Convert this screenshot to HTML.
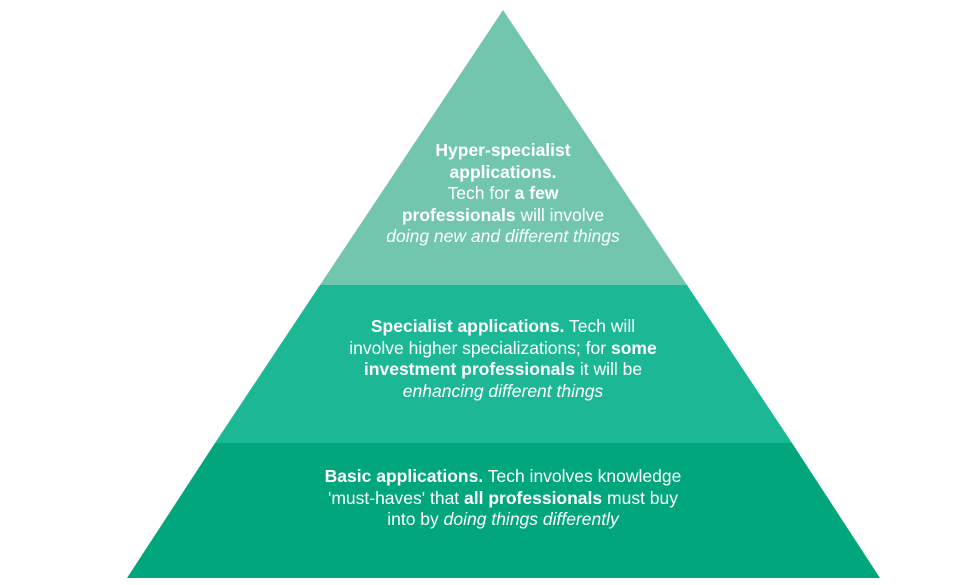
<!DOCTYPE html>
<html><head><style>
body{margin:0;width:974px;height:585px;background:#fff;position:relative;overflow:hidden;font-family:"Liberation Sans",sans-serif;}
svg{position:absolute;left:0;top:0}
.t{position:absolute;color:#fff;text-align:center;font-size:17.5px;line-height:21.5px;}
b{font-weight:bold}
</style></head><body>
<svg width="974" height="585">
<polygon points="503,10 687,285 320,285" fill="#72c6ad"/>
<polygon points="320,285 687,285 792,443 215,443" fill="#1cb896"/>
<polygon points="215,443 792,443 880,578 127,578" fill="#02a67d"/>
</svg>
<div class="t" style="left:283px;width:440px;top:140px"><b>Hyper-specialist<br>applications.</b><br>Tech for <b>a few<br>professionals</b> will involve<br><i>doing new and different things</i></div>
<div class="t" style="left:283px;width:440px;top:316px"><b>Specialist applications.</b> Tech will<br>involve higher specializations; for <b>some<br>investment professionals</b> it will be<br><i>enhancing different things</i></div>
<div class="t" style="left:233px;width:540px;top:466px"><b>Basic applications.</b> Tech involves knowledge<br>'must-haves' that <b>all professionals</b> must buy<br>into by <i>doing things differently</i></div>
</body></html>
